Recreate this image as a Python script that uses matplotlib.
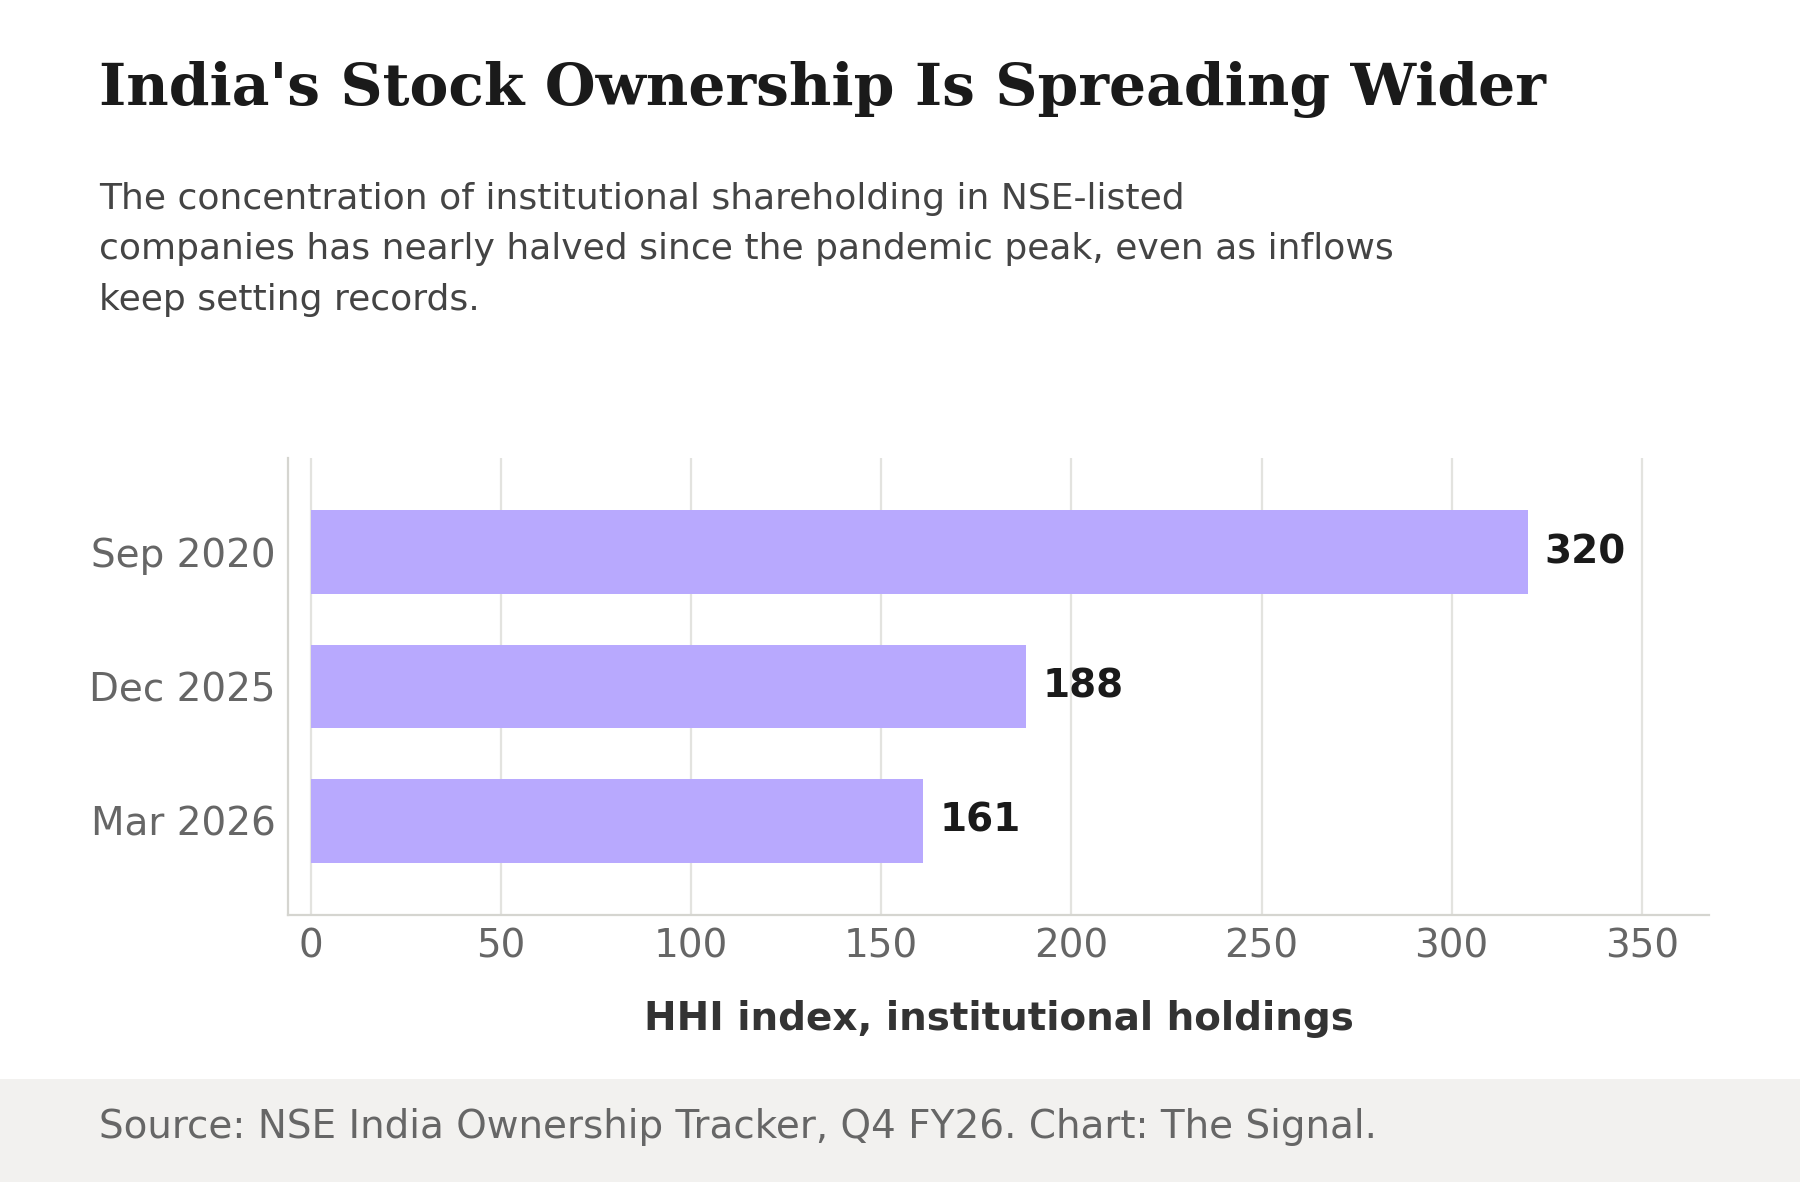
import matplotlib
matplotlib.use("Agg")
import matplotlib.pyplot as plt

categories = ["Sep 2020", "Dec 2025", "Mar 2026"]
values = [320, 188, 161]
xticks = [0, 50, 100, 150, 200, 250, 300, 350]

W, H = 1800, 1182
DPI = 100
fig = plt.figure(figsize=(W / DPI, H / DPI), dpi=DPI)
fig.patch.set_facecolor("white")

def fx(px):
    return px / W

def fy(py):
    return 1 - py / H

# footer band
fig.patches.append(matplotlib.patches.Rectangle((0, 0), 1, fy(1079), transform=fig.transFigure,
                                                facecolor="#f2f1ef", edgecolor="none", zorder=0))

# axes
left, right, top, bottom = 288, 1709, 458, 915
ax = fig.add_axes([fx(left), fy(bottom), fx(right - left), (bottom - top) / H])
ypos = list(range(len(categories)))
ax.barh(ypos, values, height=0.62, color="#b8a9fe", zorder=2)
ax.set_xlim(-6.05, 367.7)
ax.set_ylim(2.7, -0.7)
ax.set_yticks(ypos)
ax.set_yticklabels(categories)
ax.set_xticks(xticks)
ax.set_xticklabels([str(t) for t in xticks])
ax.tick_params(axis="both", length=0, labelsize=28, labelcolor="#666666", pad=9)
ax.grid(axis="x", color="#e3e3df", linewidth=1.6, zorder=0)
ax.grid(axis="y", visible=False)
for s in ["top", "right"]:
    ax.spines[s].set_visible(False)
for s in ["left", "bottom"]:
    ax.spines[s].set_color("#d5d5d0")
    ax.spines[s].set_linewidth(1.6)
ax.set_axisbelow(True)

for y, v in zip(ypos, values):
    ax.annotate(str(v), xy=(v, y), xytext=(12, 0), textcoords="offset points",
                ha="left", va="center", fontsize=28, fontweight="bold", color="#1a1a1a")

ax.set_xlabel("HHI index, institutional holdings", fontsize=28, fontweight="bold",
              color="#333333", labelpad=25)

# title
fig.text(fx(99), fy(105), "India's Stock Ownership Is Spreading Wider",
         family="DejaVu Serif", fontweight="bold", fontsize=42, color="#1a1a1a",
         ha="left", va="baseline")

sub = ["The concentration of institutional shareholding in NSE-listed",
       "companies has nearly halved since the pandemic peak, even as inflows",
       "keep setting records."]
for i, line in enumerate(sub):
    fig.text(fx(99), fy(209 + i * 50.5), line, fontsize=26, color="#444444",
             ha="left", va="baseline")

fig.text(fx(99), fy(1127), "Source: NSE India Ownership Tracker, Q4 FY26. Chart: The Signal.",
         fontsize=28, color="#666666", ha="left", va="center")

fig.savefig("out.png", dpi=DPI)
